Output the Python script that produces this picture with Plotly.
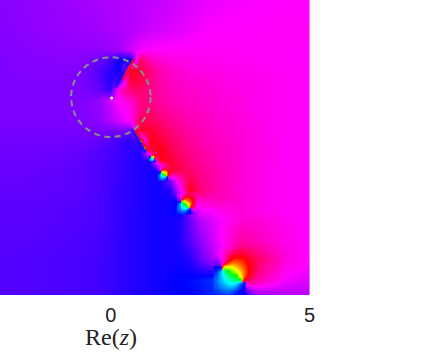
import plotly.graph_objects as go

# All hues are unrolled degrees: -120 blue, -60 magenta, 0 red, 60 yellow, 120 green, 180 cyan, 240 blue
re_nodes = [-2.79, -2.04, -1.28, -0.78, -0.53, -0.28, -0.03, 0.23, 0.48, 0.73, 0.98, 1.23, 1.48, 1.73, 1.98, 2.23, 2.74, 3.24, 3.74, 4.37, 5.0]
im_nodes = [2.44, 1.68, 1.18, 0.93, 0.68, 0.43, 0.18, -0.08, -0.33, -0.58, -0.83, -1.08, -1.33, -1.58, -1.83, -2.09, -2.34, -2.59, -2.84, -3.09, -3.59, -4.10, -4.60, -4.97]
phase = [
 [-88,-86,-84,-82,-81,-80,-79,-78,-77,-76,-75,-74,-72,-70,-68,-66,-64,-62,-61,-60,-60],
 [-89,-87,-85,-84,-83,-82,-80,-79,-77,-75,-72,-70,-68,-66,-64,-62,-60,-60,-59,-58,-58],
 [-90,-88,-87,-86,-86,-86,-84,-82,-72,-62,-60,-58,-58,-58,-58,-58,-58,-58,-58,-59,-59],
 [-90,-89,-88,-88,-91,-95,-104,-118,-120,-22,-42,-50,-53,-54,-55,-56,-57,-57,-58,-59,-59],
 [-90,-89,-89,-90,-95,-102,-110,-119,-5,-14,-30,-42,-47,-50,-52,-54,-55,-56,-57,-58,-59],
 [-90,-90,-90,-91,-95,-100,-112,-100,-10,-18,-30,-40,-45,-48,-50,-51,-53,-55,-56,-58,-59],
 [-90,-90,-90,-91,-93,-97,-108,-45,-28,-25,-32,-38,-43,-46,-48,-49,-52,-54,-56,-58,-59],
 [-90,-90,-90,-90,-89,-85,-70,-58,-48,-30,-32,-38,-42,-45,-47,-48,-51,-53,-56,-58,-59],
 [-90,-90,-90,-90,-88,-85,-75,-62,-55,-32,-26,-33,-38,-42,-45,-46,-50,-53,-56,-58,-59],
 [-91,-91,-91,-90,-89,-86,-78,-68,-58,-20,-20,-27,-33,-38,-42,-44,-49,-52,-55,-58,-60],
 [-92,-92,-92,-92,-92,-92,-92,-90,-95,-8,-12,-20,-28,-34,-39,-42,-48,-51,-55,-58,-60],
 [-93,-93,-93,-94,-95,-97,-100,-105,-110,-100,-5,-13,-23,-30,-36,-40,-47,-50,-54,-58,-60],
 [-94,-94,-95,-96,-98,-100,-103,-106,-110,-113,-15,-4,-17,-26,-33,-37,-45,-50,-54,-58,-60],
 [-95,-95,-96,-98,-100,-102,-104,-107,-110,-113,-113,-6,-12,-22,-30,-35,-44,-50,-54,-58,-60],
 [-95,-96,-97,-99,-100,-102,-104,-107,-110,-113,-115,-116,-10,-18,-26,-32,-43,-50,-55,-58,-60],
 [-96,-97,-98,-99,-100,-102,-105,-108,-110,-113,-115,-116,-90,-45,-16,-31,-43,-50,-55,-58,-60],
 [-97,-97,-98,-99,-100,-102,-105,-108,-110,-113,-115,-116,-112,-60,-4,-27,-42,-50,-55,-58,-60],
 [-98,-98,-99,-100,-101,-103,-106,-108,-110,-113,-115,-116,-116,-120,-60,-45,-45,-50,-55,-58,-60],
 [-99,-99,-100,-101,-102,-103,-106,-108,-111,-113,-115,-116,-118,-125,-80,-65,-55,-52,-55,-58,-60],
 [-99,-99,-100,-101,-102,-103,-106,-108,-111,-113,-115,-116,-116,-113,-95,-78,-62,-50,-50,-57,-60],
 [-100,-100,-101,-102,-103,-104,-106,-109,-111,-113,-115,-116,-116,-112,-100,-88,-62,-38,-45,-55,-60],
 [-100,-101,-102,-103,-104,-105,-107,-109,-111,-113,-115,-116,-116,-116,-112,-98,-72,-15,-25,-52,-60],
 [-100,-101,-102,-103,-104,-105,-107,-109,-111,-113,-115,-116,-118,-120,-122,-125,-135,-100,-40,-62,-68],
 [-100,-101,-102,-103,-104,-105,-107,-109,-111,-113,-115,-116,-118,-120,-120,-122,-130,-110,-85,-78,-76],
]

# Hue around one pole-zero pair, columns then rows in picture pixels relative to its midpoint
pair_dx = [-16, -12, -8, -4, 0, 4, 8, 12, 16, 20, 24]
pair_dy = [-23, -19, -15, -11, -7, -3, 1, 5, 9, 13, 17, 21]
pair_warm = [
 [-70,-62,-52,-40,-30,-22,-19,-20,-24,-29,-33],
 [-72,-62,-48,-28,-12,-6,-6,-10,-14,-19,-25],
 [-85,-68,-50,-20,5,12,8,2,-6,-14,-21],
 [-95,-85,-25,20,34,30,21,11,-2,-12,-22],
 [-105,-115,88,73,63,51,35,19,2,-10,-20],
 [None,None,120,120,97,75,50,25,3,-12,-24],
 [None,None,None,None,120,102,66,26,0,-17,-28],
 [None,None,None,None,None,120,93,5,-18,-28,-35],
 [None,None,None,None,None,None,None,-56,-45,-41,-41],
 [None,None,None,None,None,None,None,-85,-75,-68,-65],
 [None,None,None,None,None,None,None,-110,-95,-85,-78],
 [None,None,None,None,None,None,None,-115,-105,-92,-82],
]
pair_cool = [
 [None]*11, [None]*11, [None]*11, [None]*11,
 [240,240,None,None,None,None,None,None,None,None,None],
 [232,205,165,120,None,None,None,None,None,None,None],
 [222,200,175,150,128,120,None,None,None,None,None],
 [218,200,185,170,155,140,120,None,None,None,None],
 [218,205,195,185,180,185,215,235,None,None,None],
 [222,212,205,200,200,210,230,240,None,None,None],
 [228,222,218,215,220,230,240,240,None,None,None],
 [235,232,230,228,232,238,240,240,None,None,None],
]
# Midpoint Re, midpoint Im and size of each pair, read along the diagonal chain
pair_re = [3.04, 1.86, 1.32, 1.04, 0.85, 0.75, 0.65]
pair_im = [-4.45, -2.69, -1.93, -1.52, -1.28, -1.11, -0.95]
pair_size = [1.0, 0.43, 0.30, 0.18, 0.13, 0.10, 0.07]

cut_blue_re = [0.12, 0.50]
cut_blue_im = [0.25, 0.97]
cut_red_re = [0.30, 0.58]
cut_red_im = [0.42, 0.95]
lower_blue_re = [0.53, 0.87]
lower_blue_im = [-0.80, -1.40]
lower_red_re = [0.60, 0.94]
lower_red_im = [-0.78, -1.36]

tick_values = [0, 5]
tick_labels = ["0", "5"]
PX = 39.8

hue_scale = [[0, "#00ffff"], [0.125, "#0000ff"], [0.25, "#ff00ff"], [0.375, "#ff0000"],
             [0.5, "#ffff00"], [0.625, "#00ff00"], [0.75, "#00ffff"], [0.875, "#0000ff"], [1, "#ff00ff"]]
common = dict(colorscale=hue_scale, zmin=-180, zmax=300, showscale=False, zsmooth="best", hoverinfo="skip")

fig = go.Figure()
fig.add_trace(go.Heatmap(x=re_nodes, y=im_nodes[::-1], z=phase[::-1], **common))
for cx, cy, s in zip(pair_re, pair_im, pair_size):
    xs = [cx + s * d / PX for d in pair_dx]
    ys = [cy - s * d / PX for d in pair_dy][::-1]
    fig.add_trace(go.Heatmap(x=xs, y=ys, z=pair_warm[::-1], **common))
    fig.add_trace(go.Heatmap(x=xs, y=ys, z=pair_cool[::-1], **common))

for xs, ys, col in [(cut_blue_re, cut_blue_im, "#0000ff"), (cut_red_re, cut_red_im, "#ff0000"),
                    (lower_blue_re, lower_blue_im, "#0000ff"), (lower_red_re, lower_red_im, "#ff0000")]:
    fig.add_trace(go.Scatter(x=xs, y=ys, mode="lines", line=dict(color=col, width=3), hoverinfo="skip", opacity=0.7))
fig.add_trace(go.Scatter(x=[0.02], y=[-0.02], mode="markers", marker=dict(color="white", size=3), hoverinfo="skip"))

fig.add_shape(type="circle", x0=-1, x1=1, y0=-1, y1=1, xref="x", yref="y",
              line=dict(color="#8c8c8c", width=2, dash="6px,4.5px"))
fig.add_annotation(x=0, y=58 / 353, xref="x", yref="paper", yanchor="middle", yshift=-42, showarrow=False,
                   text="Re(<i>z</i>)", font=dict(family="Liberation Serif", size=24, color="#222222"))

fig.update_layout(
    width=423, height=353, margin=dict(l=0, r=0, t=0, b=0), showlegend=False,
    paper_bgcolor="white", plot_bgcolor="white",
    xaxis=dict(domain=[0, 310 / 417.6], range=[-2.79, 5], tickvals=tick_values, ticktext=tick_labels,
               showgrid=False, zeroline=False, showline=False, ticks="outside", ticklen=2,
               tickcolor="rgba(0,0,0,0)", tickfont=dict(family="Liberation Sans", size=20, color="#222222")),
    yaxis=dict(domain=[58 / 353, 1], range=[-4.97, 2.44], visible=False),
)
fig.write_html("out.html", config={"displayModeBar": False}, post_script="document.body.style.margin='0';")
